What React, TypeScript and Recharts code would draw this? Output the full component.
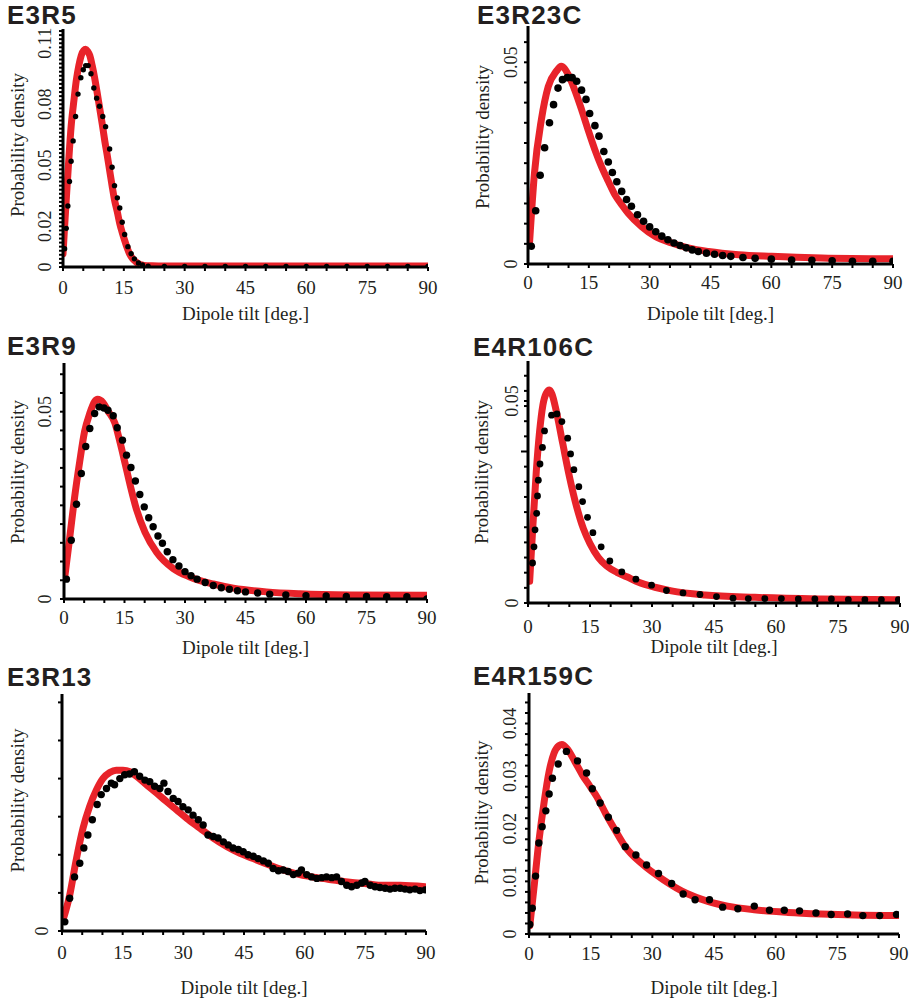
import { ComposedChart, Line, Scatter, XAxis, YAxis } from 'recharts';

const RED = '#e8232a';
const INK = '#231f20';
const SERIF = '"Liberation Serif", "Times New Roman", serif';
const SANS = '"Liberation Sans", Arial, sans-serif';

// shared x axis
const tiltTicks = [0, 5, 10, 15, 20, 25, 30, 35, 40, 45, 50, 55, 60, 65, 70, 75, 80, 85, 90];
const tiltLabels = [0, 15, 30, 45, 60, 75, 90];

// E3R5
const e3r5Tilt = [0.4, 0.8, 1.2, 1.6, 2.0, 2.5, 3.1, 3.7, 4.4, 5.0, 5.6, 6.2, 6.9, 7.6, 8.3, 9.0, 9.8, 10.5, 11.5, 12.1, 12.7, 13.4, 14.0, 14.6, 15.2, 16.0, 16.8, 17.6, 18.6, 19.6, 21, 25, 30, 35, 40, 45, 50, 55, 60, 65, 70, 75, 80, 85, 90];
const e3r5Density = [0.009, 0.019, 0.030, 0.042, 0.052, 0.062, 0.074, 0.085, 0.093, 0.097, 0.099, 0.099, 0.095, 0.088, 0.083, 0.079, 0.074, 0.069, 0.058, 0.049, 0.040, 0.034, 0.029, 0.022, 0.016, 0.010, 0.0065, 0.004, 0.002, 0.001, 0.0004, 0.0003, 0.0003, 0.0003, 0.0003, 0.0003, 0.0003, 0.0003, 0.0003, 0.0003, 0.0003, 0.0003, 0.0003, 0.0003, 0.0003];
const e3r5FitTilt = [0, 0.4, 0.8, 1.4, 2, 2.7, 3.3, 3.9, 4.5, 5.1, 5.6, 6.1, 6.6, 7.2, 7.8, 8.4, 9, 9.7, 10.3, 10.9, 11.5, 12.1, 12.7, 13.4, 14, 14.6, 15.2, 15.8, 16.4, 17.2, 18, 19, 20, 22, 25, 30, 40, 50, 60, 70, 80, 90];
const e3r5FitDensity = [0.0065, 0.02, 0.033, 0.052, 0.069, 0.082, 0.092, 0.099, 0.104, 0.1065, 0.107, 0.106, 0.104, 0.099, 0.093, 0.086, 0.0786, 0.070, 0.062, 0.055, 0.0475, 0.040, 0.033, 0.027, 0.0213, 0.017, 0.0131, 0.0095, 0.0065, 0.004, 0.0025, 0.0012, 0.0008, 0.0006, 0.0005, 0.0005, 0.0005, 0.0005, 0.0005, 0.0005, 0.0005, 0.0005];
const e3r5YLabels = [0, 0.02, 0.05, 0.08, 0.11];

// E3R23C
const e3r23cTilt = [0.8, 1.9, 3.0, 4.1, 5.3, 6.3, 7.4, 8.5, 9.7, 10.9, 12.0, 13.2, 14.3, 15.2, 16.5, 17.5, 18.7, 19.8, 20.8, 21.9, 23.1, 24.3, 25.5, 27, 28.5, 30, 31.5, 33, 34.5, 36, 37.5, 39, 40.5, 42, 44, 46, 48, 50, 53, 56, 60, 65, 70, 75, 80, 85, 90];
const e3r23cDensity = [0.0044, 0.0132, 0.022, 0.0288, 0.035, 0.0395, 0.0436, 0.0457, 0.0462, 0.0462, 0.0453, 0.0431, 0.0408, 0.0373, 0.0343, 0.0317, 0.0279, 0.0253, 0.0227, 0.0204, 0.018, 0.016, 0.0143, 0.0122, 0.0106, 0.0092, 0.008, 0.0069, 0.006, 0.0052, 0.0046, 0.004, 0.0035, 0.0031, 0.0027, 0.0024, 0.0021, 0.0019, 0.0016, 0.0014, 0.0012, 0.001, 0.0009, 0.0008, 0.0007, 0.0007, 0.0007];
const e3r23cFitTilt = [0.4, 1.6, 3.3, 5, 7, 8.2, 9.9, 11.5, 13.2, 14.8, 16.5, 18.1, 19.8, 21.4, 23.1, 24.7, 28, 31.3, 35.4, 39.5, 44.5, 51.9, 60.1, 72.5, 90];
const e3r23cFitDensity = [0.0056, 0.0226, 0.0358, 0.044, 0.0478, 0.049, 0.047, 0.0432, 0.0383, 0.0333, 0.0283, 0.0242, 0.0205, 0.0172, 0.0147, 0.0126, 0.0093, 0.0069, 0.0052, 0.004, 0.0031, 0.0023, 0.0019, 0.0015, 0.0013];
const e3r23cYLabels = [0, 0.05];

// E3R9
const e3r9Tilt = [0.6, 1.8, 3.1, 4.3, 5.4, 6.4, 7.6, 8.7, 9.9, 10.9, 12.2, 13.2, 14.5, 15.5, 16.6, 17.7, 18.8, 19.9, 21, 22.1, 23.3, 24.4, 25.6, 27, 28.5, 30, 31.5, 33, 35, 37, 39, 41, 43, 45, 48, 51, 55, 60, 65, 70, 75, 80, 85, 90];
const e3r9Density = [0.0053, 0.0157, 0.0253, 0.0335, 0.0407, 0.0455, 0.0495, 0.0513, 0.051, 0.0504, 0.0489, 0.0457, 0.0424, 0.0384, 0.0351, 0.0315, 0.0279, 0.0246, 0.0217, 0.0193, 0.0168, 0.0149, 0.0126, 0.0105, 0.0088, 0.0073, 0.0062, 0.0053, 0.0044, 0.0036, 0.003, 0.0026, 0.0022, 0.0019, 0.0016, 0.0013, 0.0011, 0.0009, 0.0008, 0.0007, 0.0007, 0.0006, 0.0006, 0];
const e3r9FitTilt = [0.2, 1.4, 2.6, 3.9, 5.1, 6.4, 7.6, 8.3, 9.7, 10.9, 12.6, 13.9, 15.1, 16.4, 18.0, 20.1, 23.0, 27.1, 31.2, 37.0, 42, 50.2, 58.5, 70.9, 90];
const e3r9FitDensity = [0.006, 0.0162, 0.0269, 0.0367, 0.0447, 0.0496, 0.0527, 0.0533, 0.0524, 0.0502, 0.047, 0.0418, 0.0364, 0.0304, 0.0238, 0.0178, 0.0124, 0.0081, 0.0059, 0.004, 0.0029, 0.0019, 0.0014, 0.0011, 0.001];
const e3r9YLabels = [0, 0.05];

// E4R106C
const e4r106cTilt = [1.1, 1.45, 1.7, 2.1, 2.3, 2.5, 2.9, 3.5, 4.0, 5.7, 7.0, 8.2, 9.6, 10.3, 11.1, 12.3, 13.2, 14.4, 15.7, 17.7, 19.8, 22.7, 26.1, 29.9, 33.5, 37.5, 41.6, 45.6, 49.6, 53.3, 57.3, 61.3, 65.4, 69.4, 73.4, 77.5, 81.5, 85.5, 89.6];
const e4r106cDensity = [0.0099, 0.0139, 0.0181, 0.0222, 0.0265, 0.0304, 0.0344, 0.0385, 0.0426, 0.0465, 0.0468, 0.0449, 0.0408, 0.0369, 0.033, 0.0288, 0.0251, 0.0212, 0.0174, 0.0139, 0.0104, 0.0077, 0.0059, 0.0044, 0.0031, 0.0025, 0.0021, 0.0016, 0.0012, 0.0011, 0.0011, 0.0011, 0.001, 0.001, 0.001, 0.0008, 0.0008, 0.0008, 0.0008];
const e4r106cFitTilt = [0.4, 1.2, 2, 2.8, 3.6, 4.4, 5.2, 5.8, 6.8, 8.4, 10.0, 11.8, 13.4, 15.0, 17.0, 19.0, 21.5, 23.9, 26.6, 30.7, 34.7, 42.8, 54.9, 71, 90];
const e4r106cFitDensity = [0.0054, 0.0194, 0.0325, 0.0424, 0.049, 0.0519, 0.0527, 0.0517, 0.0477, 0.0395, 0.0314, 0.0237, 0.0184, 0.0147, 0.0113, 0.0092, 0.0076, 0.0065, 0.0052, 0.0039, 0.003, 0.002, 0.0014, 0.001, 0.0008];
const e4r106cYLabels = [0, 0.05];

// E3R13
const e3r13Tilt = [0.7, 1.9, 3.1, 4.4, 5.4, 6.4, 7.5, 8.7, 9.7, 11, 12.2, 13, 14.3, 15.5, 16.7, 17.9, 19.2, 20.5, 21.7, 22.9, 24.2, 25.2, 26.2, 27.5, 28.7, 29.9, 31.2, 32.4, 33.7, 34.9, 36.1, 37.4, 38.6, 39.9, 41.1, 42.3, 43.6, 44.8, 46, 47.3, 48.5, 49.8, 51, 52.2, 53.5, 54.7, 55.9, 57.2, 58.4, 59.2, 60.5, 61.7, 63, 64.2, 65.4, 66.7, 67.9, 69.1, 70.4, 71.6, 72.9, 74.1, 74.9, 76.2, 77.4, 78.6, 79.9, 81.1, 82.3, 83.6, 84.8, 86, 87.3, 88.5, 89.8];
const e3r13Density = [0.0012, 0.0043, 0.0071, 0.0089, 0.0109, 0.0126, 0.0146, 0.0166, 0.0179, 0.0187, 0.0194, 0.0192, 0.02, 0.0205, 0.0206, 0.0209, 0.0203, 0.0198, 0.0196, 0.019, 0.0187, 0.0194, 0.0183, 0.0174, 0.017, 0.0163, 0.0159, 0.0152, 0.0146, 0.0139, 0.0126, 0.0124, 0.0122, 0.0117, 0.0113, 0.0109, 0.0107, 0.0104, 0.01, 0.0098, 0.0095, 0.0092, 0.0089, 0.0082, 0.0079, 0.008, 0.0078, 0.0074, 0.0076, 0.008, 0.0074, 0.0071, 0.0069, 0.007, 0.0071, 0.007, 0.0071, 0.0065, 0.006, 0.0058, 0.006, 0.0063, 0.0065, 0.006, 0.0058, 0.0057, 0.0056, 0.0055, 0.0056, 0.0056, 0.0055, 0.0054, 0.0055, 0.0053, 0.0054];
const e3r13FitTilt = [0.4, 1.9, 3.5, 5.2, 6.8, 8.5, 10.1, 11.8, 13.4, 15.1, 16.8, 18.4, 20.9, 23.4, 25.8, 28.3, 30.8, 34.1, 37.4, 40.7, 44, 47.3, 50.6, 54.7, 58.8, 63, 67.1, 71.2, 75.3, 79.5, 83.6, 89.8];
const e3r13FitDensity = [0.0017, 0.0047, 0.0093, 0.0135, 0.0163, 0.0185, 0.02, 0.0208, 0.0211, 0.0211, 0.0209, 0.0203, 0.0192, 0.0181, 0.017, 0.0159, 0.0148, 0.0135, 0.0122, 0.0111, 0.0102, 0.0095, 0.0088, 0.008, 0.0074, 0.007, 0.0067, 0.0064, 0.0062, 0.006, 0.006, 0.0058];
const e3r13YLabels = [0];

// E4R159C
const e4r159cTilt = [0.2, 0.8, 1.6, 2.4, 3.2, 4.1, 4.9, 5.7, 7.1, 9.1, 11.8, 14.0, 15.4, 17.3, 19.3, 21.3, 23.4, 26.0, 28.6, 31.5, 34.7, 37.5, 40.4, 43.9, 47.1, 50.8, 54.8, 58.5, 62.1, 65.8, 69.8, 73.5, 77.5, 81.2, 85.3, 89.4];
const e4r159cDensity = [0.0018, 0.0049, 0.011, 0.0173, 0.0204, 0.0234, 0.0266, 0.0296, 0.0323, 0.0347, 0.0329, 0.0306, 0.0276, 0.0249, 0.0222, 0.0197, 0.0166, 0.015, 0.0131, 0.0115, 0.0096, 0.0076, 0.0065, 0.0065, 0.0051, 0.0048, 0.0053, 0.0045, 0.0045, 0.0044, 0.004, 0.0037, 0.0038, 0.0035, 0.0035, 0.0037];
const e4r159cFitTilt = [0.2, 1.2, 2.4, 3.7, 4.9, 6.1, 7.3, 8.0, 9.3, 11.2, 13, 14.8, 16.5, 18.7, 20.9, 23.4, 27.4, 32.7, 38.4, 43.5, 48.3, 54.8, 63, 71.1, 79.2, 90];
const e4r159cFitDensity = [0.0016, 0.0087, 0.0176, 0.0252, 0.0309, 0.0344, 0.0358, 0.036, 0.0352, 0.0327, 0.0302, 0.0281, 0.0261, 0.0228, 0.0198, 0.0166, 0.0134, 0.0103, 0.0077, 0.0062, 0.0053, 0.0046, 0.0041, 0.0038, 0.0036, 0.0035];
const e4r159cYLabels = [0, 0.01, 0.02, 0.03, 0.04];

const zip = (xs: number[], ys: number[]) => xs.map((x, i) => ({ x, y: ys[i] }));

type Box = { l: number; r: number; t: number; b: number };
type PanelCfg = {
  title: string;
  titleX: number;
  titleY: number;
  box: Box;
  yMax: number;
  yStep: number;
  yLabels: number[];
  longTicks: number[];
  dots: { x: number; y: number }[];
  fit: { x: number; y: number }[];
  dotR: number;
  xTickDy: number;
  xLabelDy: number;
  yTickDx: number;
  yLabelDx: number;
  yLabelDy: number;
};

const panels: PanelCfg[] = [
  { title: 'E3R5', titleX: 7, titleY: 24, box: { l: 63, r: 428, t: 29, b: 267 }, yMax: 0.117, yStep: 0.002, yLabels: e3r5YLabels, longTicks: [], dots: zip(e3r5Tilt, e3r5Density), fit: zip(e3r5FitTilt, e3r5FitDensity), dotR: 2.7, xTickDy: 20, xLabelDy: 46, yTickDx: 18, yLabelDx: 46, yLabelDy: -3 },
  { title: 'E3R23C', titleX: 477, titleY: 23.5, box: { l: 528, r: 893, t: 26, b: 264 }, yMax: 0.059, yStep: 0.005, yLabels: e3r23cYLabels, longTicks: [], dots: zip(e3r23cTilt, e3r23cDensity), fit: zip(e3r23cFitTilt, e3r23cFitDensity), dotR: 3.8, xTickDy: 18, xLabelDy: 49, yTickDx: 17, yLabelDx: 46, yLabelDy: -8 },
  { title: 'E3R9', titleX: 7, titleY: 355, box: { l: 64, r: 427, t: 363, b: 599 }, yMax: 0.063, yStep: 0.005, yLabels: e3r9YLabels, longTicks: [], dots: zip(e3r9Tilt, e3r9Density), fit: zip(e3r9FitTilt, e3r9FitDensity), dotR: 3.7, xTickDy: 18, xLabelDy: 48, yTickDx: 19, yLabelDx: 47, yLabelDy: -9 },
  { title: 'E4R106C', titleX: 473, titleY: 356, box: { l: 528, r: 900, t: 361, b: 603 }, yMax: 0.0599, yStep: 0.00375, yLabels: e4r106cYLabels, longTicks: [0.0375], dots: zip(e4r106cTilt, e4r106cDensity), fit: zip(e4r106cFitTilt, e4r106cFitDensity), dotR: 3.4, xTickDy: 23, xLabelDy: 43, yTickDx: 16, yLabelDx: 47, yLabelDy: -10 },
  { title: 'E3R13', titleX: 7, titleY: 686, box: { l: 62, r: 426, t: 694, b: 931 }, yMax: 0.0311, yStep: 0.005, yLabels: e3r13YLabels, longTicks: [], dots: zip(e3r13Tilt, e3r13Density), fit: zip(e3r13FitTilt, e3r13FitDensity), dotR: 3.7, xTickDy: 21, xLabelDy: 56, yTickDx: 20, yLabelDx: 45, yLabelDy: -12 },
  { title: 'E4R159C', titleX: 473, titleY: 685, box: { l: 529, r: 899, t: 693, b: 934 }, yMax: 0.0458, yStep: 0.002, yLabels: e4r159cYLabels, longTicks: [], dots: zip(e4r159cTilt, e4r159cDensity), fit: zip(e4r159cFitTilt, e4r159cFitDensity), dotR: 3.7, xTickDy: 19, xLabelDy: 53, yTickDx: 19, yLabelDx: 48, yLabelDy: -1 },
];

const near = (a: number, b: number) => Math.abs(a - b) < 1e-7;

function yTicksFor(cfg: PanelCfg) {
  const out: number[] = [];
  for (let i = 0; i * cfg.yStep <= cfg.yMax + 1e-9; i++) out.push(Number((i * cfg.yStep).toFixed(6)));
  cfg.yLabels.forEach((v) => {
    if (!out.some((o) => near(o, v))) out.push(v);
  });
  return out.sort((a, b) => a - b);
}

function XTick(props: any) {
  const { x, y, payload, dy } = props;
  const v = payload.value;
  const labelled = tiltLabels.includes(v);
  return (
    <g>
      <line x1={x} x2={x} y1={y} y2={y + 4} stroke="#000" strokeWidth={2} />
      {labelled && (
        <text x={x} y={y + dy} textAnchor="middle" dominantBaseline="central" fontFamily={SERIF} fontSize={19} fill={INK}>
          {v}
        </text>
      )}
    </g>
  );
}

function YTick(props: any) {
  const { x, y, payload, cfg } = props;
  const v = payload.value;
  const labelled = cfg.yLabels.some((l: number) => near(l, v));
  const long = cfg.longTicks.some((l: number) => near(l, v));
  const len = long ? 7 : 4;
  const tx = x - cfg.yTickDx;
  return (
    <g>
      <line x1={x - len} x2={x} y1={y} y2={y} stroke="#000" strokeWidth={2} />
      {labelled && (
        <text x={tx} y={y} transform={`rotate(-90 ${tx} ${y})`} textAnchor="middle" dominantBaseline="central" fontFamily={SERIF} fontSize={18} fill={INK}>
          {String(v)}
        </text>
      )}
    </g>
  );
}

function Panel({ cfg }: { cfg: PanelCfg }) {
  const { box } = cfg;
  const yAxisW = 60;
  const mTop = 6;
  const mRight = 16;
  const xAxisH = 64;
  const mBottom = 6;
  const width = box.r - box.l + yAxisW + mRight;
  const height = box.b - box.t + mTop + xAxisH + mBottom;
  const yTicks = yTicksFor(cfg);

  return (
    <div style={{ position: 'absolute', left: box.l - yAxisW, top: box.t - mTop }}>
      <ComposedChart width={width} height={height} margin={{ top: mTop, right: mRight, bottom: mBottom, left: 0 }}>
        <XAxis
          xAxisId="bottom"
          type="number"
          dataKey="x"
          domain={[0, 90]}
          ticks={tiltTicks}
          interval={0}
          height={xAxisH}
          tickSize={0}
          tickMargin={0}
          tickLine={false}
          allowDataOverflow
          axisLine={{ stroke: '#000', strokeWidth: 3 }}
          tick={(p: any) => <XTick {...p} dy={cfg.xTickDy} />}
          label={(p: any) => {
            const vb = p.viewBox;
            return (
              <text x={vb.x + vb.width / 2} y={vb.y + cfg.xLabelDy} textAnchor="middle" dominantBaseline="central" fontFamily={SERIF} fontSize={19} fill={INK}>
                Dipole tilt [deg.]
              </text>
            );
          }}
        />
        <XAxis xAxisId="top" orientation="top" type="number" dataKey="x" domain={[0, 90]} height={0} tick={false} tickLine={false} axisLine={{ stroke: '#000', strokeWidth: 2 }} />
        <YAxis
          yAxisId="left"
          type="number"
          domain={[0, cfg.yMax]}
          ticks={yTicks}
          interval={0}
          width={yAxisW}
          tickSize={0}
          tickMargin={0}
          tickLine={false}
          allowDataOverflow
          axisLine={{ stroke: '#000', strokeWidth: 3 }}
          tick={(p: any) => <YTick {...p} cfg={cfg} />}
          label={(p: any) => {
            const vb = p.viewBox;
            const lx = vb.x + vb.width - cfg.yLabelDx;
            const ly = vb.y + vb.height / 2 + cfg.yLabelDy;
            return (
              <text x={lx} y={ly} transform={`rotate(-90 ${lx} ${ly})`} textAnchor="middle" dominantBaseline="central" fontFamily={SERIF} fontSize={19} fill={INK}>
                Probability density
              </text>
            );
          }}
        />
        <YAxis yAxisId="right" orientation="right" type="number" domain={[0, cfg.yMax]} width={0} tick={false} tickLine={false} axisLine={{ stroke: '#000', strokeWidth: 2 }} />
        <Scatter
          xAxisId="bottom"
          yAxisId="left"
          data={cfg.dots}
          dataKey="y"
          isAnimationActive={false}
          shape={(p: any) => <circle cx={p.cx} cy={p.cy} r={cfg.dotR} fill="#000" />}
        />
        <Line
          xAxisId="bottom"
          yAxisId="left"
          data={cfg.fit}
          dataKey="y"
          type="monotone"
          dot={false}
          activeDot={false}
          stroke={RED}
          strokeWidth={7}
          strokeLinejoin="round"
          strokeLinecap="round"
          isAnimationActive={false}
        />
      </ComposedChart>
    </div>
  );
}

export default function App() {
  return (
    <div style={{ position: 'absolute', left: 0, top: 0, width: 909, height: 1001, background: '#fff' }}>
      <svg width={909} height={1001} style={{ position: 'absolute', left: 0, top: 0 }}>
        {panels.map((p) => (
          <text key={p.title} x={p.titleX} y={p.titleY} fontFamily={SANS} fontWeight="bold" fontSize={26} letterSpacing={1.2} fill={INK}>
            {p.title}
          </text>
        ))}
      </svg>
      {panels.map((p) => (
        <Panel key={p.title} cfg={p} />
      ))}
    </div>
  );
}
